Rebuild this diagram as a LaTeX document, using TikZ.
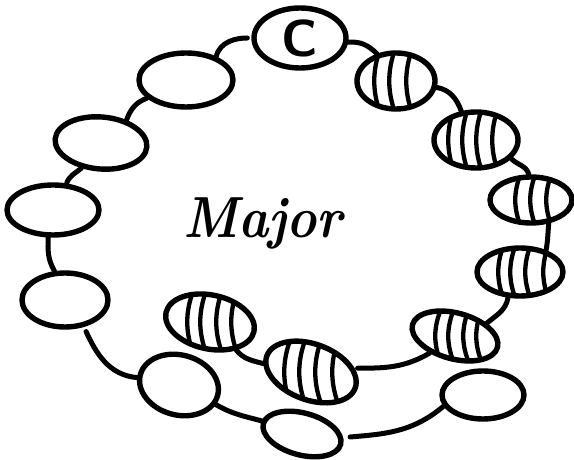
\documentclass[tikz,border=0pt]{standalone}
\usetikzlibrary{shapes.geometric}
\tikzset{
  blob/.style={ellipse, draw, line width=5.4pt, inner sep=0pt, fill=white},
  link/.style={line width=5pt, line cap=round},
  hatchline/.style={line width=4.3pt, line cap=round},
}
\newcommand{\hatchblob}[5]{%
  \begin{scope}[shift={(#1.center)}]
    \clip[rotate=#4] (0,0) ellipse [x radius=#2, y radius=#3];
    \foreach \d in {#5}
      \draw[hatchline] (\d+3,#3+6) .. controls (\d-6,#3*0.4) and (\d-6,-#3*0.4) .. (\d+3,-#3-6);
  \end{scope}}
\begin{document}
\begin{tikzpicture}[x=1pt,y=1pt]
\useasboundingbox (0,0) rectangle (574,460);
\fill[white] (0,0) rectangle (574,460);

% top
\node[blob, minimum width=92pt, minimum height=60pt, font=\fontsize{52}{52}\selectfont\sffamily\bfseries] (C) at (300,422) {C};
% left chain
\node[blob, minimum width=94pt, minimum height=54pt] (L1) at (186,380) {};
\node[blob, minimum width=92pt, minimum height=52pt, rotate=-5] (L2) at (101,317) {};
\node[blob, minimum width=92pt, minimum height=50pt] (L3) at (53,250) {};
\node[blob, minimum width=86pt, minimum height=54pt] (L4) at (65,160) {};
\node[blob, minimum width=80pt, minimum height=60pt, rotate=-15] (B1) at (179,75) {};
\node[blob, minimum width=80pt, minimum height=42pt, rotate=-15] (B2) at (302,26) {};
\node[blob, minimum width=82pt, minimum height=48pt] (B3) at (483,65) {};
% right chain (hatched)
\node[blob, minimum width=78pt, minimum height=56pt] (H1) at (396,379) {};
\node[blob, minimum width=84pt, minimum height=56pt] (H2) at (476,320) {};
\node[blob, minimum width=82pt, minimum height=46pt] (H3) at (531,260) {};
\node[blob, minimum width=86pt, minimum height=48pt] (H4) at (520,188) {};
\node[blob, minimum width=88pt, minimum height=46pt, rotate=-15] (H5) at (455,124) {};
\node[blob, minimum width=94pt, minimum height=56pt, rotate=-20] (H6) at (311,88) {};
\node[blob, minimum width=90pt, minimum height=54pt, rotate=-12] (H7) at (210,138) {};

\hatchblob{H1}{39}{28}{0}{-18,-3,14}
\hatchblob{H2}{42}{28}{0}{-24,-10,4,20}
\hatchblob{H3}{41}{23}{0}{-12,3,19}
\hatchblob{H4}{43}{24}{0}{-18,-6,9,27}
\hatchblob{H5}{44}{23}{-15}{-16,-3,12,25}
\hatchblob{H6}{47}{28}{-20}{-23,-8,8,25}
\hatchblob{H7}{45}{27}{-12}{-19,-6,10,25}

% connectors
\draw[link, shorten >=4pt] (L1.38) to[out=75,in=180] (C.west);
\draw[link] (C.-5) to[out=5,in=135] (H1.125);
\draw[link] (H1.-9) to[out=-10,in=110] (H2.117);
\draw[link] (H2.-28) to[out=-45,in=105] (H3.95);
\draw[link] (H3.-53) to[out=-95,in=80] (H4.40);
\draw[link] (H4.-115) to[out=-100,in=40] (H5.37);
\draw[link, shorten >=3pt] (H5.-131) to[out=-150,in=0] (H6.25);
\draw[link] (H6.190) to[out=165,in=-50] (H7.-35);

\draw[link] (L1.-155) to[out=-160,in=70] (L2.47);
\draw[link] (L2.-123) to[out=-140,in=70] (L3.63);
\draw[link] (L3.-100) to[out=-92,in=120] (L4.110);
\draw[link, shorten <=5pt] (L4.-55) to[out=-65,in=175] (B1.185);
\draw[link] (B1.-13) to[out=-30,in=165] (B2.177);
\draw[link, shorten <=7pt] (B2.10) to[out=5,in=-140] (B3.-164);

\node[font=\fontsize{58}{58}\selectfont\bfseries\itshape, anchor=base] (M) at (263,222) {\scalebox{0.88}[1]{Major}};
\end{tikzpicture}
\end{document}
